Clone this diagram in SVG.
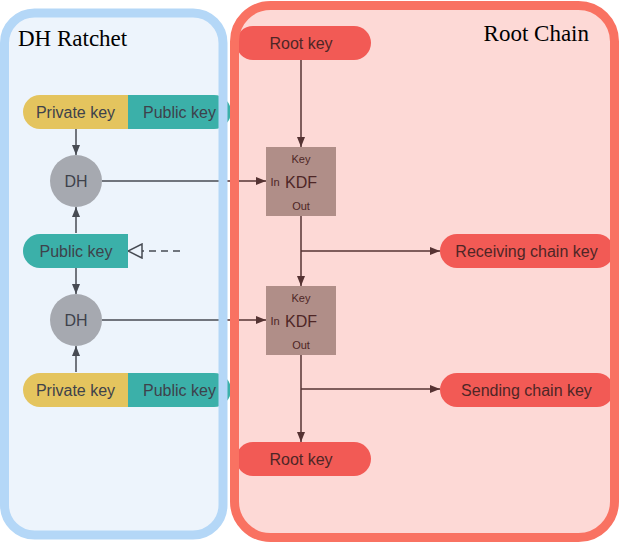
<svg xmlns="http://www.w3.org/2000/svg" width="619" height="548" viewBox="0 0 619 548">
<defs>
<style>
.title{font-family:"Liberation Serif","Times New Roman",serif;font-size:23px;fill:#000}
.lbl{font-family:"Liberation Sans",Arial,sans-serif;font-size:16px;text-anchor:middle}
.dk{fill:#3e424b}
.rd{fill:#4e2626}
.sm{font-family:"Liberation Sans",Arial,sans-serif;font-size:11px;fill:#4e2626;text-anchor:middle}
.yel{fill:#E4C45E}
.teal{fill:#3BB0A9}
.red{fill:#F25A55}
.dh{fill:#A6A9B0}
.kdf{fill:#B08E88}
.cg{stroke:#474b53;stroke-width:1.5;fill:none}
.cr{stroke:#553333;stroke-width:1.5;fill:none}
</style>
<marker id="ag" viewBox="0 0 10 10" refX="10" refY="5" markerWidth="10" markerHeight="10" markerUnits="userSpaceOnUse" orient="auto"><path d="M0,1 L10,5 L0,9 Z" fill="#474b53"/></marker>
<marker id="ar" viewBox="0 0 10 10" refX="10" refY="5" markerWidth="10" markerHeight="10" markerUnits="userSpaceOnUse" orient="auto"><path d="M0,1 L10,5 L0,9 Z" fill="#553333"/></marker>
<marker id="ah" viewBox="0 0 16 16" refX="15" refY="8" markerWidth="16" markerHeight="16" markerUnits="userSpaceOnUse" orient="auto"><path d="M1,1 L15,8 L1,15 Z" fill="#EDF4FC" stroke="#474b53" stroke-width="1.5"/></marker>
</defs>

<g id="dh-ratchet-bg"><rect x="4.5" y="13" width="218.5" height="522" rx="30" fill="#EDF4FC"/></g>
<g id="root-chain-bg"><rect x="234.5" y="5.5" width="380" height="532" rx="36" fill="#FDD9D6"/></g>

<g id="connectors">
<line class="cg" x1="76" y1="129" x2="76" y2="155" marker-end="url(#ag)"/>
<line class="cg" x1="76" y1="233" x2="76" y2="207" marker-end="url(#ag)"/>
<line class="cg" x1="76" y1="268" x2="76" y2="294" marker-end="url(#ag)"/>
<line class="cg" x1="76" y1="372" x2="76" y2="346" marker-end="url(#ag)"/>
<line class="cg" x1="180" y1="251" x2="128" y2="251" stroke-dasharray="7,5" marker-end="url(#ah)"/>
<line class="cg" x1="102" y1="181" x2="226" y2="181"/>
<line class="cr" x1="226" y1="181" x2="266" y2="181" marker-end="url(#ar)"/>
<line class="cg" x1="102" y1="320" x2="226" y2="320"/>
<line class="cr" x1="226" y1="320" x2="266" y2="320" marker-end="url(#ar)"/>
<line class="cr" x1="301" y1="60" x2="301" y2="147" marker-end="url(#ar)"/>
<line class="cr" x1="301" y1="216" x2="301" y2="286" marker-end="url(#ar)"/>
<line class="cr" x1="301" y1="251" x2="440" y2="251" marker-end="url(#ar)"/>
<line class="cr" x1="301" y1="355" x2="301" y2="442" marker-end="url(#ar)"/>
<line class="cr" x1="301" y1="389" x2="440" y2="389" marker-end="url(#ar)"/>
</g>

<g id="keypair-top">
<path class="teal" d="M128,95 H214 A17,17 0 0 1 214,129 H128 Z"/>
<path class="yel" d="M40,95 H128 V129 H40 A17,17 0 0 1 40,95 Z"/>
<text class="lbl dk" x="75.5" y="118">Private key</text>
<text class="lbl dk" x="179.5" y="118">Public key</text>
</g>
<g id="dh-1">
<circle class="dh" cx="76" cy="181" r="26"/>
<text class="lbl dk" x="76" y="187">DH</text>
</g>
<g id="public-key-mid">
<path class="teal" d="M40,234 H128 V268 H40 A17,17 0 0 1 40,234 Z"/>
<text class="lbl dk" x="76" y="257">Public key</text>
</g>
<g id="dh-2">
<circle class="dh" cx="76" cy="320" r="26"/>
<text class="lbl dk" x="76" y="326">DH</text>
</g>
<g id="keypair-bottom">
<path class="teal" d="M128,373 H214 A17,17 0 0 1 214,407 H128 Z"/>
<path class="yel" d="M40,373 H128 V407 H40 A17,17 0 0 1 40,373 Z"/>
<text class="lbl dk" x="75.5" y="396">Private key</text>
<text class="lbl dk" x="179.5" y="396">Public key</text>
</g>

<g id="root-key-top">
<rect class="red" x="236" y="26" width="135" height="34" rx="17"/>
<text class="lbl rd" x="301" y="49">Root key</text>
</g>
<g id="kdf-1">
<rect class="kdf" x="266" y="147" width="70" height="69"/>
<text class="sm" x="301" y="163">Key</text>
<text class="lbl rd" x="301" y="188">KDF</text>
<text class="sm" x="275" y="186" font-size="10">In</text>
<text class="sm" x="301" y="210">Out</text>
</g>
<g id="receiving-chain-key">
<rect class="red" x="440" y="234" width="174" height="34" rx="17"/>
<text class="lbl rd" x="526.5" y="257">Receiving chain key</text>
</g>
<g id="kdf-2">
<rect class="kdf" x="266" y="286" width="70" height="69"/>
<text class="sm" x="301" y="302">Key</text>
<text class="lbl rd" x="301" y="327">KDF</text>
<text class="sm" x="275" y="325" font-size="10">In</text>
<text class="sm" x="301" y="349">Out</text>
</g>
<g id="sending-chain-key">
<rect class="red" x="440" y="373" width="174" height="34" rx="17"/>
<text class="lbl rd" x="526.5" y="396">Sending chain key</text>
</g>
<g id="root-key-bottom">
<rect class="red" x="236" y="442" width="135" height="34" rx="17"/>
<text class="lbl rd" x="301" y="465">Root key</text>
</g>

<g id="frames">
<rect x="4.5" y="13" width="218.5" height="522" rx="30" fill="none" stroke="#B4D7F7" stroke-width="9"/>
<rect x="234.5" y="5.5" width="380" height="532" rx="36" fill="none" stroke="#F97262" stroke-width="9"/>
<text class="title" x="18" y="46">DH Ratchet</text>
<text class="title" x="589" y="41" text-anchor="end">Root Chain</text>
</g>
</svg>
